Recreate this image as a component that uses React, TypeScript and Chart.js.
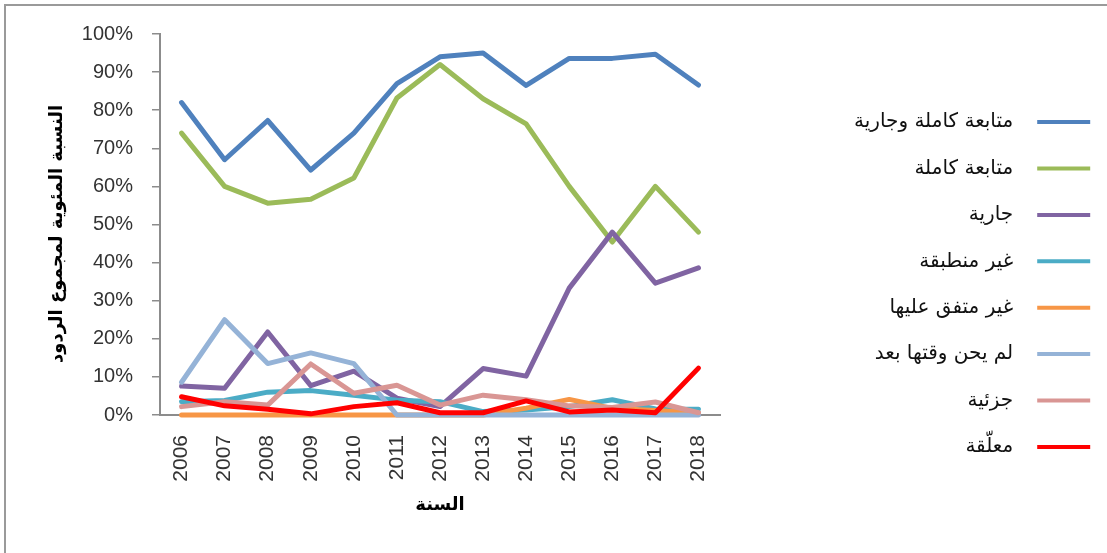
import React, { useEffect, useRef } from 'react';
import { Chart, registerables } from 'chart.js';

Chart.register(...registerables);

const years = ['2006', '2007', '2008', '2009', '2010', '2011', '2012', '2013', '2014', '2015', '2016', '2017', '2018'];

const seriesNames = [
  'متابعة كاملة وجارية',
  'متابعة كاملة',
  'جارية',
  'غير منطبقة',
  'غير متفق عليها',
  'لم يحن وقتها بعد',
  'جزئية',
  'معلّقة',
];

const fullAndOngoing = [82, 67, 77.3, 64.3, 74, 87, 94, 95, 86.5, 93.6, 93.6, 94.7, 86.6];
const fullFollowUp = [74, 60, 55.6, 56.6, 62.2, 83.2, 92, 83, 76.4, 60, 45.4, 60, 48];
const ongoing = [7.6, 7, 21.8, 7.7, 11.5, 4.4, 2.2, 12.2, 10.2, 33.3, 48, 34.6, 38.6];
const notApplicable = [3.5, 3.8, 6, 6.4, 5.2, 3.9, 3.5, 0.9, 1.3, 2.2, 4, 1.6, 1.5];
const notAgreed = [0, 0, 0, 0, 0, 0, 0, 0, 1.8, 4.1, 1.7, 1.2, 0.5];
const notYetDue = [8.6, 25, 13.5, 16.3, 13.5, 0, 0, 0, 0, 0, 0, 0, 0];
const partial = [2.2, 3.5, 2.6, 13.4, 5.7, 7.8, 2.6, 5.2, 4, 2.4, 2, 3.4, 0.6];
const suspended = [4.8, 2.4, 1.5, 0.3, 2.2, 3.2, 0.6, 0.6, 3.7, 0.8, 1.3, 0.6, 12.3];

const seriesValues = [fullAndOngoing, fullFollowUp, ongoing, notApplicable, notAgreed, notYetDue, partial, suspended];
const seriesColors = ['#4F81BD', '#9BBB59', '#8064A2', '#4BACC6', '#F79646', '#95B3D7', '#D99694', '#FF0000'];

const yTitle = 'النسبة المئوية لمجموع الردود';
const xTitle = 'السنة';

const LATIN = "'Liberation Sans', 'DejaVu Sans', sans-serif";
const ARABIC = "'DejaVu Sans', 'Liberation Sans', sans-serif";

export default function App() {
  const ref = useRef<HTMLCanvasElement>(null);

  useEffect(() => {
    const canvas = ref.current;
    if (!canvas) return;

    const frame = {
      id: 'frame',
      beforeDraw(c: any) {
        const ctx = c.ctx;
        ctx.save();
        ctx.strokeStyle = '#9a9a9a';
        ctx.lineWidth = 2;
        ctx.beginPath();
        ctx.moveTo(5, 553);
        ctx.lineTo(5, 5);
        ctx.lineTo(1107, 5);
        ctx.stroke();
        ctx.restore();
      },
    };

    const legendTweak = {
      id: 'legendTweak',
      beforeLayout(c: any) {
        const lg = c.legend;
        if (lg && !lg._patched) {
          const orig = lg.fit.bind(lg);
          lg.fit = function () {
            orig();
            this.width = 387;
          };
          lg._patched = true;
        }
      },
      afterLayout(c: any) {
        const lg = c.legend;
        if (lg) {
          lg.left += 9.6;
          lg.right += 9.6;
        }
      },
    };

    const chart = new Chart(canvas, {
      type: 'line',
      data: {
        labels: years,
        datasets: seriesValues.map((vals, i) => ({
          label: seriesNames[i],
          data: vals,
          borderColor: seriesColors[i],
          backgroundColor: seriesColors[i],
          borderWidth: 5,
          pointRadius: 0,
          pointHoverRadius: 0,
          tension: 0,
          borderJoinStyle: 'round' as const,
          borderCapStyle: 'round' as const,
          clip: false as any,
          order: seriesValues.length - i,
        })),
      },
      options: {
        responsive: false,
        animation: false,
        devicePixelRatio: 1,
        layout: { padding: { left: 47, top: 34, right: 0, bottom: 18 } },
        plugins: {
          tooltip: { enabled: false },
          legend: {
            position: 'right',
            rtl: true,
            labels: {
              boxWidth: 53,
              boxHeight: 4,
              padding: 26.4,
              color: '#111',
              font: { family: ARABIC, size: 20 },
              sort: (a: any, b: any) => a.datasetIndex - b.datasetIndex,
              generateLabels: (c: any) => {
                const items = Chart.defaults.plugins.legend.labels.generateLabels(c);
                return items.map((it: any) => ({
                  ...it,
                  text: it.text + '\u2002\u2009',
                  lineWidth: 0,
                  fillStyle: seriesColors[it.datasetIndex],
                }));
              },
            },
          },
        },
        scales: {
          x: {
            type: 'category',
            offset: true,
            grid: { display: false },
            border: { display: true, color: '#8c8c8c', width: 2 },
            ticks: {
              color: '#333',
              font: { family: LATIN, size: 21 },
              minRotation: 90,
              maxRotation: 90,
              padding: 12,
              autoSkip: false,
            },
            title: {
              display: true,
              text: xTitle,
              color: '#000',
              font: { family: ARABIC, size: 18, weight: 'bold' },
              padding: { top: 0, bottom: 19 },
            },
            afterFit: (s: any) => {
              s.height = 120;
            },
          },
          y: {
            min: 0,
            max: 100,
            grid: { drawOnChartArea: false, drawTicks: true, tickLength: 8, color: '#8c8c8c', lineWidth: 1.5 },
            border: { display: true, color: '#8c8c8c', width: 2 },
            ticks: {
              stepSize: 10,
              color: '#333',
              font: { family: LATIN, size: 20 },
              padding: 19,
              callback: (v: any) => v + '%',
            },
            title: {
              display: true,
              text: yTitle + '\u00A0\u00A0\u00A0',
              color: '#000',
              font: { family: ARABIC, size: 18, weight: 'bold' },
              padding: { top: 0, bottom: 0 },
            },
            afterFit: (s: any) => {
              s.width = 113;
            },
          },
        },
      },
      plugins: [frame, legendTweak],
    });

    return () => {
      chart.destroy();
    };
  }, []);

  return (
    <div style={{ position: 'fixed', left: 0, top: 0, width: 1107, height: 553, background: '#fff' }}>
      <canvas ref={ref} width={1107} height={553} style={{ display: 'block', width: 1107, height: 553 }} />
    </div>
  );
}
